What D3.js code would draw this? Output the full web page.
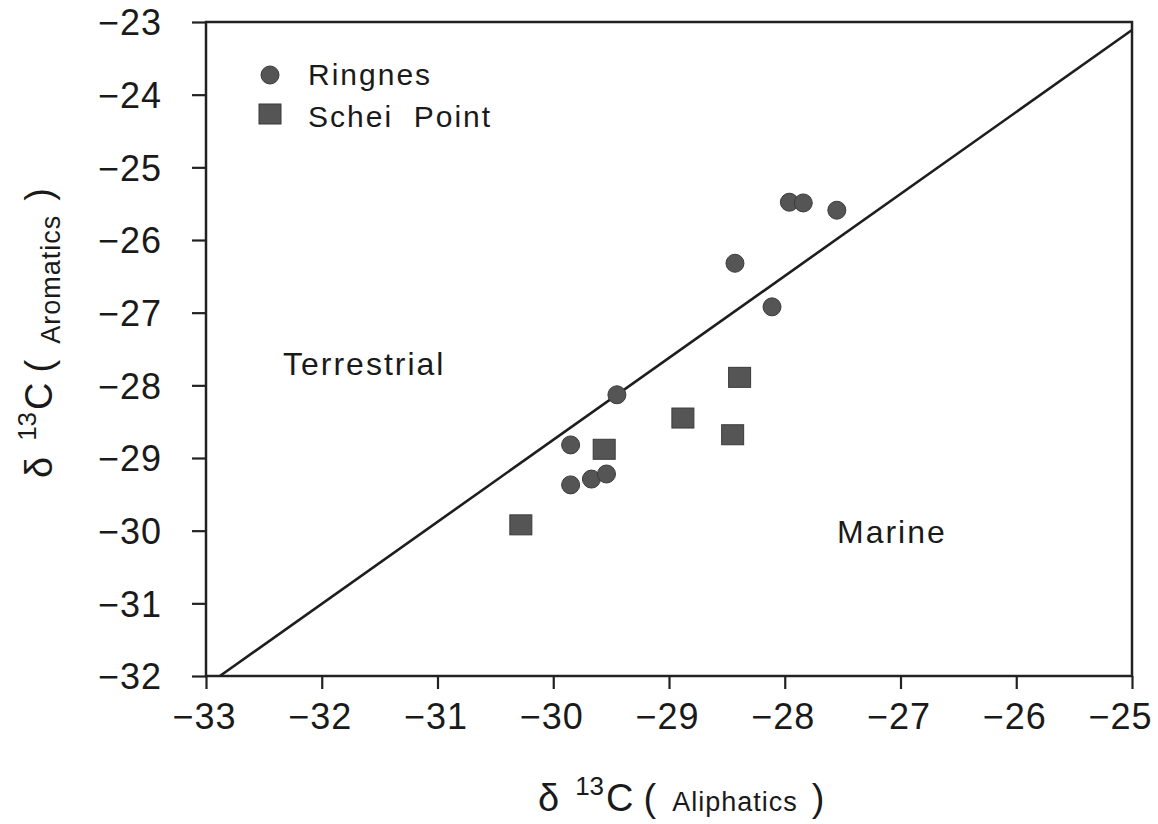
<!DOCTYPE html>
<html>
<head>
<meta charset="utf-8">
<script src="https://cdn.jsdelivr.net/npm/d3@7/dist/d3.min.js"></script>
<style>
    body { margin: 0; background: #fff; }
    text { font-family: "Liberation Sans", "DejaVu Sans", sans-serif; fill: #1a1a1a; }
    .frame { fill: none; stroke: #222; stroke-width: 2.5; }
    .axis path { display: none; }
    .axis line { stroke: #222; stroke-width: 2.2; }
    .axis text { font-size: 36px; letter-spacing: 1px; }
</style>
</head>
<body>
<div id="myChart"></div>
<script>
// delta13C of aliphatic (x) vs aromatic (y) fractions
var ringnesX = [-27.96, -27.84, -27.55, -28.43, -28.11, -29.45, -29.85, -29.85, -29.67, -29.54];
var ringnesY = [-25.48, -25.49, -25.59, -26.32, -26.92, -28.13, -28.82, -29.37, -29.29, -29.22];

var scheiX = [-28.39, -28.88, -28.45, -29.56, -30.28];
var scheiY = [-27.89, -28.45, -28.68, -28.88, -29.92];

// terrestrial / marine separation line
var lineX = [-32.88, -25];
var lineY = [-32, -23.11];

var xTicks = [-33, -32, -31, -30, -29, -28, -27, -26, -25];
var yTicks = [-32, -31, -30, -29, -28, -27, -26, -25, -24, -23];

var seriesNames = ["Ringnes", "Schei\u00A0 Point"];

var width = 1158, height = 824;
var margin = { top: 22, right: 26, bottom: 148, left: 206 };

var svg = d3.select("#myChart").append("svg")
    .attr("width", width)
    .attr("height", height);

var x = d3.scaleLinear().domain([-33, -25]).range([margin.left, width - margin.right]);
var y = d3.scaleLinear().domain([-32, -23]).range([height - margin.bottom, margin.top]);

var minus = function (d) { return "\u2212" + Math.abs(d); };

// axes
svg.append("g")
    .attr("class", "x axis")
    .attr("transform", "translate(0," + y(-32) + ")")
    .call(d3.axisBottom(x).tickValues(xTicks).tickSize(13).tickPadding(14).tickFormat(minus));

// last label sits a bit left of its tick so it stays on the page
svg.selectAll(".x.axis .tick text")
    .attr("dx", function (d) { return d === -25 ? -12 : -2; });

svg.append("g")
    .attr("class", "y axis")
    .attr("transform", "translate(" + x(-33) + ",0)")
    .call(d3.axisLeft(y).tickValues(yTicks).tickSize(14).tickPadding(30).tickFormat(minus));

svg.selectAll(".y.axis .tick text").attr("dy", "0.36em");

// frame
svg.append("rect")
    .attr("class", "frame")
    .attr("x", x(-33))
    .attr("y", y(-23))
    .attr("width", x(-25) - x(-33))
    .attr("height", y(-32) - y(-23));

// diagonal
svg.append("line")
    .attr("x1", x(lineX[0])).attr("y1", y(lineY[0]))
    .attr("x2", x(lineX[1])).attr("y2", y(lineY[1]))
    .attr("stroke", "#1e1e1e")
    .attr("stroke-width", 2.6);

var ringnes = ringnesX.map(function (v, i) { return { x: v, y: ringnesY[i] }; });
var schei = scheiX.map(function (v, i) { return { x: v, y: scheiY[i] }; });

var markFill = "#555", markStroke = "#3a3a3a";

svg.append("g").selectAll("circle")
    .data(ringnes)
    .join("circle")
    .attr("cx", function (d) { return x(d.x); })
    .attr("cy", function (d) { return y(d.y); })
    .attr("r", 9)
    .attr("fill", markFill)
    .attr("stroke", markStroke)
    .attr("stroke-width", 1);

svg.append("g").selectAll("rect")
    .data(schei)
    .join("rect")
    .attr("x", function (d) { return x(d.x) - 11; })
    .attr("y", function (d) { return y(d.y) - 10; })
    .attr("width", 22)
    .attr("height", 20)
    .attr("fill", markFill)
    .attr("stroke", markStroke)
    .attr("stroke-width", 1);

// legend
var legend = svg.append("g").attr("transform", "translate(270,75)");
legend.append("circle").attr("r", 9).attr("fill", markFill).attr("stroke", markStroke);
legend.append("rect").attr("x", -11).attr("y", 29).attr("width", 22).attr("height", 20)
    .attr("fill", markFill).attr("stroke", markStroke);
legend.selectAll("text.lg")
    .data(seriesNames)
    .join("text")
    .attr("class", "lg")
    .attr("x", 38)
    .attr("y", function (d, i) { return 10 + i * 42; })
    .style("font-size", "30px")
    .style("letter-spacing", "2px")
    .text(function (d) { return d; });

// region labels
svg.append("text").attr("x", 283).attr("y", 375)
    .style("font-size", "32px").style("letter-spacing", "2px").text("Terrestrial");
svg.append("text").attr("x", 837).attr("y", 543)
    .style("font-size", "32px").style("letter-spacing", "2px").text("Marine");

// axis titles: δ 13C ( name )
function title(g, small, shift) {
    g.append("tspan").style("font-size", "38px").text("\u03B4");
    g.append("tspan").style("font-size", "26px").attr("dx", 16).attr("dy", -16).text("13");
    g.append("tspan").style("font-size", "38px").attr("dx", 2).attr("dy", 16).text("C");
    g.append("tspan").style("font-size", "38px").attr("dx", 10).text("(");
    g.append("tspan").style("font-size", "27px").attr("dx", 16).attr("dy", shift)
        .style("letter-spacing", "1px").text(small);
    g.append("tspan").style("font-size", "38px").attr("dx", 14).attr("dy", -shift).text(")");
}

var xt = svg.append("text").attr("x", 538).attr("y", 811);
title(xt, "Aliphatics", 0);

var yt = svg.append("text").attr("transform", "translate(52,478) rotate(-90)");
title(yt, "Aromatics", 8);
</script>
</body>
</html>
